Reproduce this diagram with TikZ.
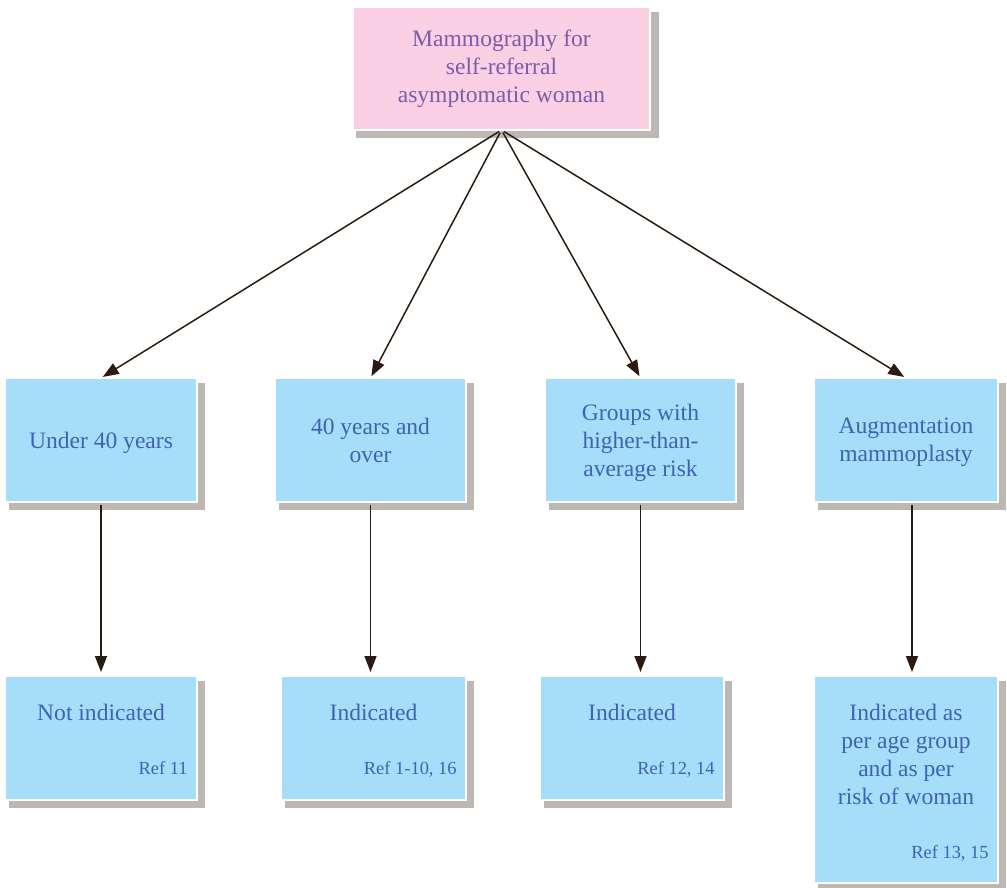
\documentclass[tikz,border=0pt]{standalone}
\usepackage{fontspec}
\setmainfont{Liberation Serif}
\usetikzlibrary{arrows.meta,positioning,shadows}
\definecolor{mammopink}{HTML}{FBD0E4}
\definecolor{mammopurple}{HTML}{7A5DA8}
\definecolor{mammoblue}{HTML}{A6DEFA}
\definecolor{mammotext}{HTML}{3F63B0}
\definecolor{mammoshadow}{HTML}{BDB8B3}
\definecolor{mammoarrow}{HTML}{2B1A0F}

\begin{document}
\begin{tikzpicture}[
  >={Triangle[length=0.32cm,width=0.24cm]},
  card/.style={
    draw=white,
    line width=1.2pt,
    outer sep=0pt,
    inner sep=0pt,
    align=center,
    drop shadow={shadow xshift=0.12cm, shadow yshift=-0.13cm, shadow scale=1.02, fill=mammoshadow, opacity=1}
  },
  rootcard/.style={card, fill=mammopink, text=mammopurple, font=\fontsize{13.4}{15.9}\selectfont},
  groupcard/.style={card, fill=mammoblue, text=mammotext, font=\fontsize{13.4}{15.9}\selectfont, minimum height=2.48cm, text depth=0pt},
  resultcard/.style={card, fill=mammoblue, minimum height=2.48cm},
  verdict/.style={inner sep=0pt, align=center, text=mammotext, font=\fontsize{13.4}{15.9}\selectfont},
  refnote/.style={inner sep=0pt, text=mammotext, font=\fontsize{10.5}{12.6}\selectfont, anchor=base east},
  flow/.style={->, line width=0.85pt, mammoarrow, shorten <=0.06cm, shorten >=0.04cm}
]
  \useasboundingbox (0,0) rectangle (20.14,-17.74);

  % Top: the self-referral question
  \node[rootcard, minimum width=5.94cm, minimum height=2.46cm] (root) at (10.03,-1.37) {
    Mammography for\\ self-referral\\ asymptomatic woman
  };

  % --- MIDDLE ROW: groups of women ---
  \node[groupcard, minimum width=3.84cm] (under40) at (2.02,-8.8) {Under 40 years};
  \node[groupcard, minimum width=3.82cm, right=1.56cm of under40] (over40) {40 years and\\ over};
  \node[groupcard, minimum width=3.82cm, right=1.58cm of over40] (highrisk) {Groups with\\ higher-than-\\ average risk};
  \node[groupcard, minimum width=3.68cm, right=1.56cm of highrisk] (augment) {Augmentation\\ mammoplasty};

  % --- BOTTOM ROW: recommendations ---
  \node[resultcard, minimum width=3.84cm, below=3.48cm of under40] (notind) {};
  \node[resultcard, minimum width=3.70cm, below=3.48cm of over40.south east, anchor=north east] (ind1) {};
  \node[resultcard, minimum width=3.68cm, below=3.48cm of highrisk, xshift=-0.17cm] (ind2) {};
  \node[resultcard, minimum width=3.68cm, minimum height=4.14cm, below=3.48cm of augment] (perage) {};

  \node[verdict, below=0.56cm of notind.north, anchor=north] (notindtxt) {Not indicated};
  \node[verdict, below=0.56cm of ind1.north, anchor=north] (ind1txt) {Indicated};
  \node[verdict, below=0.56cm of ind2.north, anchor=north] (ind2txt) {Indicated};
  \node[verdict, below=0.56cm of perage.north, anchor=north] (peragetxt) {Indicated as\\ per age group\\ and as per\\ risk of woman};

  \node[refnote] (notindref) at ([xshift=-0.18cm,yshift=0.52cm]notind.south east) {Ref 11};
  \node[refnote] (ind1ref) at ([xshift=-0.18cm,yshift=0.52cm]ind1.south east) {Ref 1-10, 16};
  \node[refnote] (ind2ref) at ([xshift=-0.18cm,yshift=0.52cm]ind2.south east) {Ref 12, 14};
  \node[refnote] (perageref) at ([xshift=-0.18cm,yshift=0.50cm]perage.south east) {Ref 13, 15};

  % Fan-out from the question
  \draw[flow] (root.south) -- (under40.north);
  \draw[flow] (root.south) -- (over40.north);
  \draw[flow] (root.south) -- (highrisk.north);
  \draw[flow] (root.south) -- (augment.north);

  % Group to recommendation
  \draw[flow, shorten >=0.08cm] (under40.south) -- (notind.north);
  \draw[flow, shorten >=0.08cm] (over40.south) -- (over40.south |- ind1.north);
  \draw[flow, shorten >=0.08cm] (highrisk.south) -- (highrisk.south |- ind2.north);
  \draw[flow, shorten >=0.08cm] ([xshift=0.12cm]augment.south) -- ([xshift=0.12cm]perage.north);

\end{tikzpicture}
\end{document}
